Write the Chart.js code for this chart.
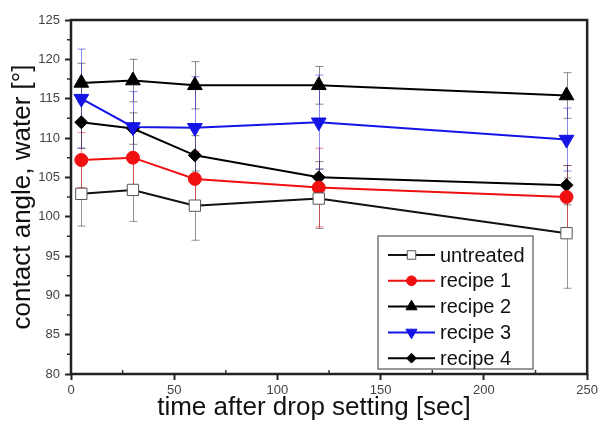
<!DOCTYPE html>
<html>
<head>
<meta charset="utf-8">
<title>contact angle vs time</title>
<script src="https://cdn.jsdelivr.net/npm/chart.js@4/dist/chart.umd.min.js"></script>
<style>
  html, body { margin: 0; padding: 0; background: #fff; }
  #wrap { width: 601px; height: 425px; }
</style>
</head>
<body>
<div id="wrap"><canvas id="angleChart" width="601" height="425"></canvas></div>
<script>
// ============================== data ==============================
const xValues = [5, 30, 60, 120, 240]; // time after drop setting [sec]

const seriesNames = ["untreated", "recipe 1", "recipe 2", "recipe 3", "recipe 4"];

const untreated = [102.9, 103.4, 101.4, 102.3, 97.9];
const recipe1   = [107.2, 107.5, 104.8, 103.7, 102.5];
const recipe2   = [117.0, 117.3, 116.7, 116.7, 115.4];
const recipe3   = [115.0, 111.4, 111.3, 112.0, 109.8];
const recipe4   = [112.0, 111.2, 107.8, 105.0, 104.0];

// symmetric error bars (+/-)
const untreatedErr = [4.1, 4.0, 4.4, 3.8, 7.0];
const recipe1Err   = [3.5, 4.0, 3.5, 5.0, 4.0];
const recipe2Err   = [2.5, 2.7, 3.0, 2.4, 2.9];
const recipe3Err   = [6.3, 4.5, 6.5, 6.0, 4.0];
const recipe4Err   = [3.3, 2.0, 2.5, 2.0, 2.5];

const yTicks = [80, 85, 90, 95, 100, 105, 110, 115, 120, 125];
const xTicks = [0, 50, 100, 150, 200, 250];

const FONT = "'Liberation Sans', Arial, sans-serif";

// ============================== helpers ==============================
function makeSet(label, values, errors, color, style, extra) {
    return Object.assign({
        label: label,
        data: xValues.map((x, i) => ({ x: x, y: values[i] })),
        errors: errors,
        borderColor: color,
        backgroundColor: color,
        pointBorderColor: color,
        pointBackgroundColor: color,
        pointStyle: style,
        pointRadius: 7,
        pointBorderWidth: 1,
        borderWidth: 2,
        tension: 0,
        fill: false
    }, extra || {});
}

const errorBarPlugin = {
    id: "errorBars",
    beforeDatasetsDraw(chart) {
        const ctx = chart.ctx;
        const xs = chart.scales.x, ys = chart.scales.y;
        chart.data.datasets.forEach((ds, di) => {
            ctx.save();
            ctx.strokeStyle = ds.errColor;
            ctx.lineWidth = 1;
            ds.data.forEach((p, i) => {
                const e = ds.errors[i];
                const px = Math.round(xs.getPixelForValue(p.x)) + 0.5;
                const top = ys.getPixelForValue(p.y + e);
                const bot = ys.getPixelForValue(p.y - e);
                ctx.beginPath();
                ctx.moveTo(px, top); ctx.lineTo(px, bot);
                ctx.moveTo(px - 4, top); ctx.lineTo(px + 4, top);
                ctx.moveTo(px - 4, bot); ctx.lineTo(px + 4, bot);
                ctx.stroke();
            });
            ctx.restore();
        });
    }
};

const framePlugin = {
    id: "frame",
    afterDraw(chart) {
        const ctx = chart.ctx;
        const a = chart.chartArea;
        const xs = chart.scales.x, ys = chart.scales.y;
        ctx.save();
        // minor ticks
        ctx.strokeStyle = "#333";
        ctx.lineWidth = 1.5;
        ctx.beginPath();
        for (let v = 82.5; v < 125; v += 5) {
            const py = ys.getPixelForValue(v);
            ctx.moveTo(a.left - 4, py); ctx.lineTo(a.left, py);
        }
        for (let v = 25; v < 250; v += 50) {
            const px = xs.getPixelForValue(v);
            ctx.moveTo(px, a.bottom); ctx.lineTo(px, a.bottom - 4);
        }
        ctx.stroke();
        // box
        ctx.strokeStyle = "#222";
        ctx.lineWidth = 2.5;
        ctx.strokeRect(a.left, a.top, a.right - a.left, a.bottom - a.top);

        // axis titles
        ctx.fillStyle = "#111";
        ctx.font = "26px " + FONT;
        ctx.textAlign = "center";
        ctx.textBaseline = "middle";
        ctx.fillText("time after drop setting [sec]", 314, 408);
        ctx.translate(23, (a.top + a.bottom) / 2);
        ctx.rotate(-Math.PI / 2);
        ctx.fillText("contact angle, water [°]", 0, 0);
        ctx.restore();
    }
};

const legendPlugin = {
    id: "boxLegend",
    afterDraw(chart) {
        const ctx = chart.ctx;
        const bx = 378, by = 236, bw = 155, bh = 133;
        ctx.save();
        ctx.fillStyle = "#fff";
        ctx.fillRect(bx, by, bw, bh);
        ctx.strokeStyle = "#777";
        ctx.lineWidth = 1.5;
        ctx.strokeRect(bx, by, bw, bh);
        chart.data.datasets.forEach((ds, i) => {
            const y = 255 + i * 25.8;
            ctx.strokeStyle = ds.borderColor;
            ctx.lineWidth = 2;
            ctx.beginPath();
            ctx.moveTo(388, y); ctx.lineTo(435, y);
            ctx.stroke();
            ctx.fillStyle = ds.pointBackgroundColor;
            ctx.strokeStyle = ds.pointBorderColor;
            ctx.lineWidth = 1;
            Chart.helpers.drawPoint(ctx, {
                pointStyle: ds.pointStyle,
                rotation: ds.pointRotation || 0,
                radius: ds.pointRadius * 0.75,
                borderWidth: 1
            }, 411.5, y);
            ctx.fillStyle = "#111";
            ctx.font = "20px " + FONT;
            ctx.textAlign = "left";
            ctx.textBaseline = "middle";
            ctx.fillText(ds.label, 440, y + 1);
        });
        ctx.restore();
    }
};

// ============================== chart ==============================
window.addEventListener("DOMContentLoaded", () => {
    const ctx = document.getElementById("angleChart").getContext("2d");

    const datasets = [
        makeSet(seriesNames[0], untreated, untreatedErr, "#111", "rect",
            { pointBackgroundColor: "#fff", pointBorderColor: "#555", pointRadius: 8, errColor: "rgba(60,60,60,0.55)" }),
        makeSet(seriesNames[1], recipe1, recipe1Err, "#f01010", "circle",
            { pointRadius: 6.5, errColor: "rgba(240,30,30,0.55)" }),
        makeSet(seriesNames[2], recipe2, recipe2Err, "#000", "triangle",
            { pointRadius: 8.5, errColor: "rgba(40,40,40,0.55)" }),
        makeSet(seriesNames[3], recipe3, recipe3Err, "#1414e6", "triangle",
            { pointRadius: 8.5, pointRotation: 180, errColor: "rgba(40,40,230,0.55)" }),
        makeSet(seriesNames[4], recipe4, recipe4Err, "#000", "rectRot",
            { pointRadius: 6.5, errColor: "rgba(40,40,40,0.55)" })
    ];

    new Chart(ctx, {
        type: "line",
        data: { datasets: datasets },
        plugins: [errorBarPlugin, framePlugin, legendPlugin],
        options: {
            responsive: false,
            animation: false,
            layout: { padding: { top: 20, right: 9, left: 0, bottom: 0 } },
            plugins: { legend: { display: false }, tooltip: { enabled: false } },
            scales: {
                x: {
                    type: "linear",
                    min: 0, max: 250,
                    afterBuildTicks: (s) => { s.ticks = xTicks.map(v => ({ value: v })); },
                    afterFit: (s) => { s.height = 51; },
                    border: { display: false },
                    grid: { drawOnChartArea: false, drawTicks: true, tickLength: 6, tickWidth: 2, tickColor: "#222" },
                    ticks: { color: "#444", font: { family: FONT, size: 13 }, padding: 3, maxRotation: 0 }
                },
                y: {
                    type: "linear",
                    min: 80, max: 125,
                    afterBuildTicks: (s) => { s.ticks = yTicks.map(v => ({ value: v })); },
                    afterFit: (s) => { s.width = 71; },
                    border: { display: false },
                    grid: { drawOnChartArea: false, drawTicks: true, tickLength: 6, tickWidth: 2, tickColor: "#222" },
                    ticks: { color: "#444", font: { family: FONT, size: 13 }, padding: 5 }
                }
            }
        }
    });
});
</script>
</body>
</html>
